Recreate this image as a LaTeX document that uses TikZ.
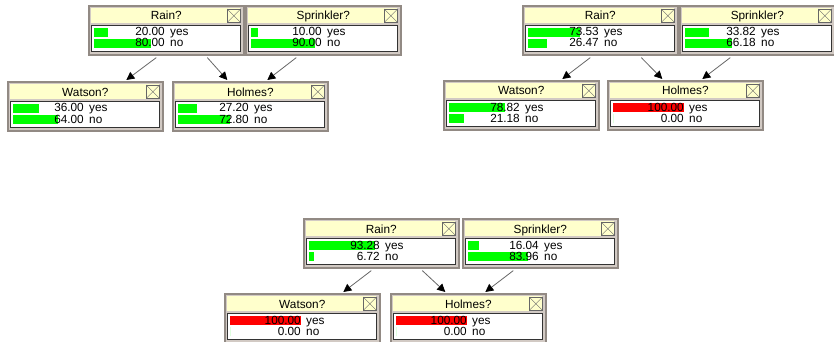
\documentclass[tikz,border=0pt]{standalone}
\usepackage{fontspec}
\setmainfont{Liberation Sans}
\usepackage{tikz}
\usetikzlibrary{arrows.meta}

\definecolor{TitleYellow}{RGB}{255,255,204}
\definecolor{FrameGray}{RGB}{210,202,196}
\definecolor{FrameDark}{RGB}{146,138,132}
\definecolor{BarGreen}{RGB}{0,255,0}
\definecolor{BarRed}{RGB}{255,0,0}

\newcommand{\NetFont}{\fontsize{11.8}{13}\selectfont}

\tikzset{
  netframe/.style={draw=FrameDark, fill=FrameGray, line width=1.6pt, inner sep=0pt,
    minimum width=155pt, minimum height=49pt, anchor=north west},
  titlebar/.style={fill=TitleYellow, inner sep=0pt, minimum width=149pt,
    minimum height=15pt, anchor=north west},
  checkbox/.style={draw=black!60, fill=TitleYellow, inner sep=0pt, minimum size=13pt,
    anchor=north east},
  bodybox/.style={draw=black!80, fill=white, line width=0.8pt, inner sep=0pt,
    minimum width=149pt, minimum height=26pt, anchor=north west},
  valtext/.style={font=\NetFont, inner sep=0pt},
  netarrow/.style={draw=black!60, line width=0.8pt,
    -{Triangle[length=8pt,width=8pt,color=black]}}
}

% #1 name, #2 corner, #3 title, #4 yes, #5 no, #6 yes colour, #7 no colour
\newcommand{\DrawBNode}[7]{%
  \node[netframe] (#1) at (#2) {};
  \node[titlebar] (#1-title) at ([shift={(3pt,-3pt)}]#1.north west) {};
  \node[valtext, anchor=base] (#1-name) at ([yshift=-15pt]#1.north) {#3};
  \node[checkbox] (#1-box) at ([shift={(-4pt,-4pt)}]#1.north east) {};
  \draw[black!60] (#1-box.north west) -- (#1-box.south east)
    (#1-box.north east) -- (#1-box.south west);
  \node[bodybox] (#1-body) at ([shift={(3pt,-20pt)}]#1.north west) {};
  \fill[#6] ([shift={(6pt,-23pt)}]#1.north west) rectangle ++(#4*0.71pt,-9pt);
  \fill[#7] ([shift={(6pt,-34pt)}]#1.north west) rectangle ++(#5*0.71pt,-9pt);
  \node[valtext, anchor=base east] (#1-yes) at ([shift={(77pt,-31pt)}]#1.north west) {#4};
  \node[valtext, anchor=base west] at ([shift={(82pt,-31pt)}]#1.north west) {yes};
  \node[valtext, anchor=base east] (#1-no) at ([shift={(77pt,-42pt)}]#1.north west) {#5};
  \node[valtext, anchor=base west] at ([shift={(82pt,-42pt)}]#1.north west) {no};
}

\begin{document}
\begin{tikzpicture}[x=1pt,y=1pt]
  \useasboundingbox (0,0) rectangle (834,-342);

  \DrawBNode{rainA}{88,-5}{Rain?}{20.00}{80.00}{BarGreen}{BarGreen}
  \DrawBNode{sprA}{245,-5}{Sprinkler?}{10.00}{90.00}{BarGreen}{BarGreen}
  \DrawBNode{watA}{7,-81}{Watson?}{36.00}{64.00}{BarGreen}{BarGreen}
  \DrawBNode{holA}{172,-81}{Holmes?}{27.20}{72.80}{BarGreen}{BarGreen}

  \DrawBNode{rainB}{522,-5}{Rain?}{73.53}{26.47}{BarGreen}{BarGreen}
  \DrawBNode{sprB}{679,-5}{Sprinkler?}{33.82}{66.18}{BarGreen}{BarGreen}
  \DrawBNode{watB}{443,-80}{Watson?}{78.82}{21.18}{BarGreen}{BarGreen}
  \DrawBNode{holB}{607,-80}{Holmes?}{100.00}{0.00}{BarRed}{BarGreen}

  \DrawBNode{rainC}{303,-218}{Rain?}{93.28}{6.72}{BarGreen}{BarGreen}
  \DrawBNode{sprC}{462,-218}{Sprinkler?}{16.04}{83.96}{BarGreen}{BarGreen}
  \DrawBNode{watC}{224,-293}{Watson?}{100.00}{0.00}{BarRed}{BarGreen}
  \DrawBNode{holC}{390,-293}{Holmes?}{100.00}{0.00}{BarRed}{BarGreen}

  \foreach \p in {A,B,C}{
    \draw[netarrow] ([shift={(-10pt,-2pt)}]rain\p.south) -- ([shift={(41pt,1pt)}]wat\p.north);
    \draw[netarrow] ([shift={(41pt,-2pt)}]rain\p.south) -- ([shift={(-23pt,1pt)}]hol\p.north);
    \draw[netarrow] ([shift={(-27pt,-2pt)}]spr\p.south) -- ([shift={(17pt,1pt)}]hol\p.north);
  }
\end{tikzpicture}
\end{document}
